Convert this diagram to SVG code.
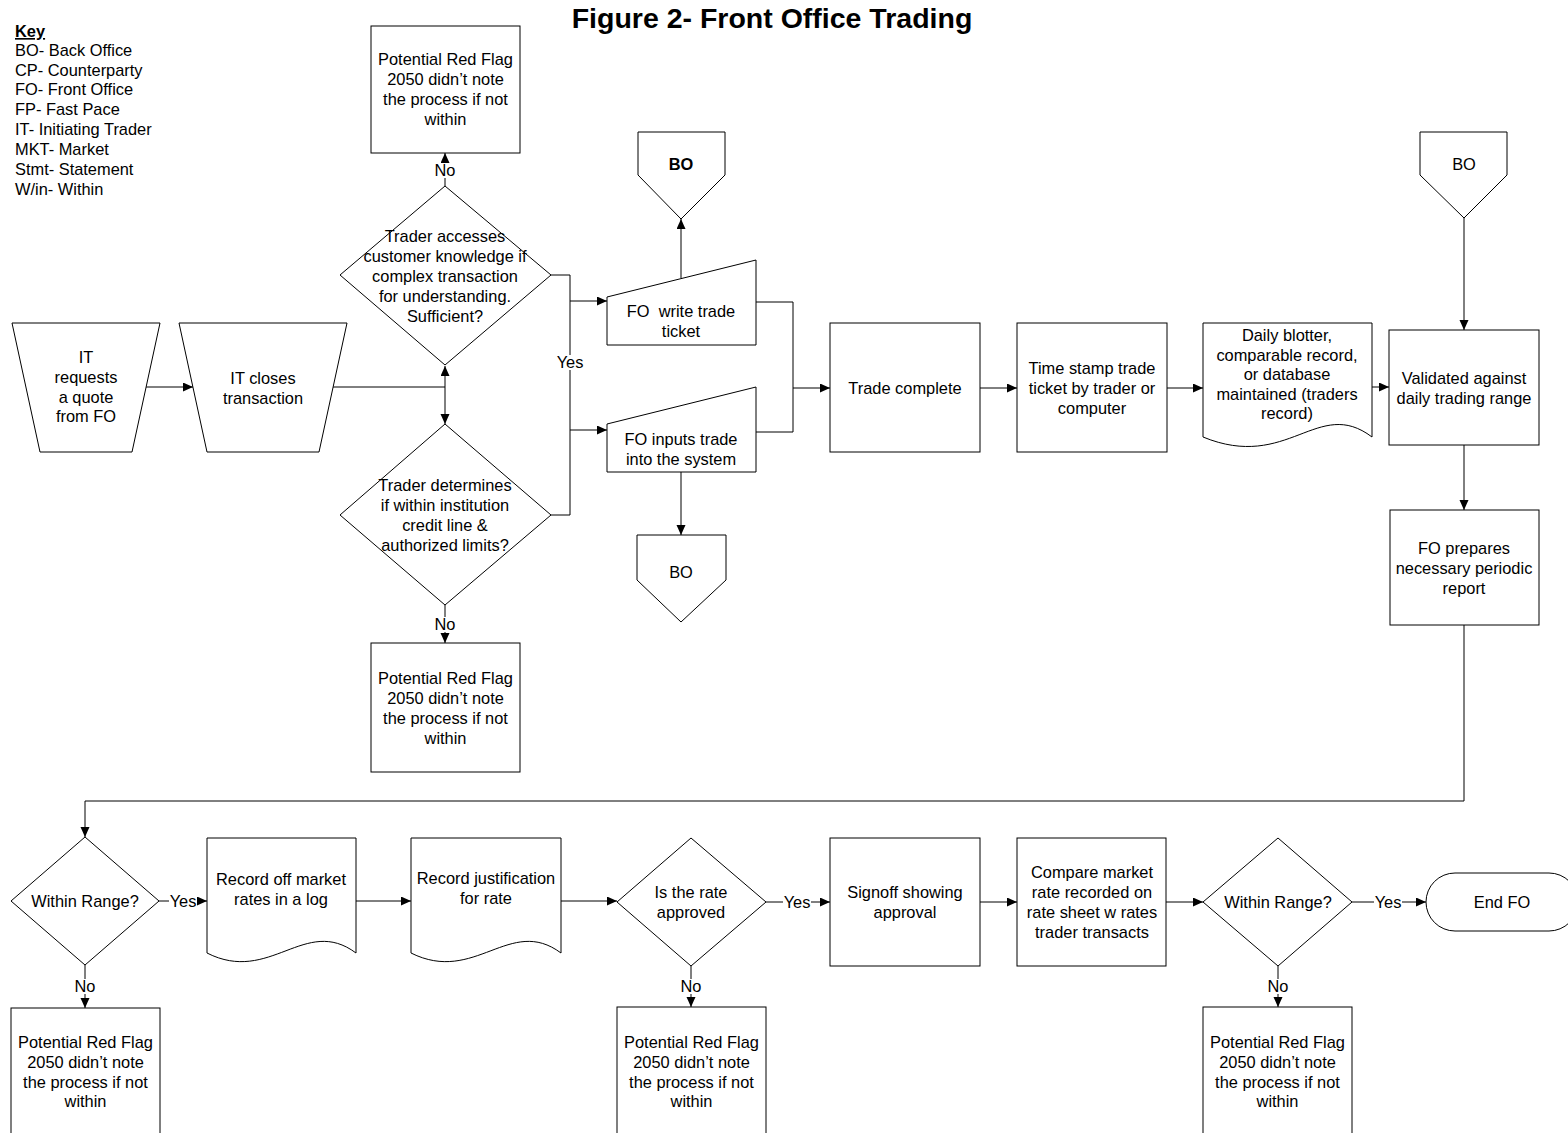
<svg xmlns="http://www.w3.org/2000/svg" width="1568" height="1133" viewBox="0 0 1568 1133">
<style>
text{font-family:"Liberation Sans",Arial,sans-serif;font-size:16.4px;fill:#000}
.c{text-anchor:middle}
.k{text-anchor:start}
.b{font-weight:bold}
.t{font-weight:bold;font-size:28.5px;text-anchor:middle}
.s{fill:#fff;stroke:#000;stroke-width:1}
.ln{fill:none;stroke:#000;stroke-width:1}
.lb{fill:#fff;stroke:none}
</style>
<defs>
<marker id="ah" markerUnits="userSpaceOnUse" markerWidth="11" markerHeight="10" refX="10" refY="4.5" orient="auto">
<path d="M0,0 L10,4.5 L0,9 Z" fill="#000"/>
</marker>
</defs>
<rect width="1568" height="1133" fill="#fff"/>
<g id="title"><text class="t" x="772" y="28">Figure 2- Front Office Trading</text></g>
<g id="key">
<text class="k b" x="15" y="37" text-decoration="underline">Key</text>
<text class="k" x="15" y="56">BO- Back Office</text>
<text class="k" x="15" y="76">CP- Counterparty</text>
<text class="k" x="15" y="95">FO- Front Office</text>
<text class="k" x="15" y="115">FP- Fast Pace</text>
<text class="k" x="15" y="135">IT- Initiating Trader</text>
<text class="k" x="15" y="155">MKT- Market</text>
<text class="k" x="15" y="175">Stmt- Statement</text>
<text class="k" x="15" y="195">W/in- Within</text>
</g>
<g id="connectors">
<path class="ln" d="M146,387 H193" marker-end="url(#ah)"/>
<path class="ln" d="M333,387 H445"/>
<path class="ln" d="M445,387 V366" marker-end="url(#ah)"/>
<path class="ln" d="M445,387 V424" marker-end="url(#ah)"/>
<path class="ln" d="M445,186 V153" marker-end="url(#ah)"/>
<path class="ln" d="M445,605 V643" marker-end="url(#ah)"/>
<path class="ln" d="M551,275 H570 V515 H551"/>
<path class="ln" d="M570,301 H607" marker-end="url(#ah)"/>
<path class="ln" d="M570,430 H607" marker-end="url(#ah)"/>
<path class="ln" d="M681,278 V219" marker-end="url(#ah)"/>
<path class="ln" d="M681,472 V535" marker-end="url(#ah)"/>
<path class="ln" d="M756,302 H793 V432 H756"/>
<path class="ln" d="M793,388 H830" marker-end="url(#ah)"/>
<path class="ln" d="M980,388 H1017" marker-end="url(#ah)"/>
<path class="ln" d="M1167,388 H1203" marker-end="url(#ah)"/>
<path class="ln" d="M1372,387 H1389" marker-end="url(#ah)"/>
<path class="ln" d="M1464,218 V330" marker-end="url(#ah)"/>
<path class="ln" d="M1464,445 V510" marker-end="url(#ah)"/>
<path class="ln" d="M1464,625 V801 H85 V837" marker-end="url(#ah)"/>
<path class="ln" d="M159,901 H207" marker-end="url(#ah)"/>
<path class="ln" d="M356,901 H411" marker-end="url(#ah)"/>
<path class="ln" d="M561,901 H617" marker-end="url(#ah)"/>
<path class="ln" d="M766,902 H830" marker-end="url(#ah)"/>
<path class="ln" d="M980,902 H1017" marker-end="url(#ah)"/>
<path class="ln" d="M1166,902 H1203" marker-end="url(#ah)"/>
<path class="ln" d="M1352,902 H1426" marker-end="url(#ah)"/>
<path class="ln" d="M85,965 V1008" marker-end="url(#ah)"/>
<path class="ln" d="M691,966 V1007" marker-end="url(#ah)"/>
<path class="ln" d="M1278,966 V1007" marker-end="url(#ah)"/>
<rect class="lb" x="434" y="163" width="22" height="15"/>
<text class="c" x="445" y="176">No</text>
<rect class="lb" x="434" y="617" width="22" height="15"/>
<text class="c" x="445" y="630">No</text>
<rect class="lb" x="555" y="355" width="30" height="15"/>
<text class="c" x="570" y="368">Yes</text>
<rect class="lb" x="169" y="894" width="28" height="15"/>
<text class="c" x="183" y="907">Yes</text>
<rect class="lb" x="783" y="895" width="28" height="15"/>
<text class="c" x="797" y="908">Yes</text>
<rect class="lb" x="1374" y="895" width="28" height="15"/>
<text class="c" x="1388" y="908">Yes</text>
<rect class="lb" x="74" y="979" width="22" height="15"/>
<text class="c" x="85" y="992">No</text>
<rect class="lb" x="680" y="979" width="22" height="15"/>
<text class="c" x="691" y="992">No</text>
<rect class="lb" x="1267" y="979" width="22" height="15"/>
<text class="c" x="1278" y="992">No</text>
</g>
<g id="it_request">
<polygon class="s" points="12,323 160,323 132,452 40,452"/>
<text class="c" x="86" y="363">IT</text>
<text class="c" x="86" y="383">requests</text>
<text class="c" x="86" y="403">a quote</text>
<text class="c" x="86" y="422">from FO</text>
</g>
<g id="it_close">
<polygon class="s" points="179,323 347,323 319,452 207,452"/>
<text class="c" x="263" y="384">IT closes</text>
<text class="c" x="263" y="404">transaction</text>
</g>
<g id="redflag_top">
<rect class="s" x="371" y="26" width="149" height="127"/>
<text class="c" x="445.5" y="65">Potential Red Flag</text>
<text class="c" x="445.5" y="85">2050 didn’t note</text>
<text class="c" x="445.5" y="105">the process if not</text>
<text class="c" x="445.5" y="125">within</text>
</g>
<g id="decision_sufficient">
<polygon class="s" points="445,186 551,275 445,365 340,275"/>
<text class="c" x="445" y="242">Trader accesses</text>
<text class="c" x="445" y="262">customer knowledge if</text>
<text class="c" x="445" y="282">complex transaction</text>
<text class="c" x="445" y="302">for understanding.</text>
<text class="c" x="445" y="322">Sufficient?</text>
</g>
<g id="decision_limits">
<polygon class="s" points="445,424 551,515 445,605 340,515"/>
<text class="c" x="445" y="491">Trader determines</text>
<text class="c" x="445" y="511">if within institution</text>
<text class="c" x="445" y="531">credit line &amp;</text>
<text class="c" x="445" y="551">authorized limits?</text>
</g>
<g id="redflag_mid">
<rect class="s" x="371" y="643" width="149" height="129"/>
<text class="c" x="445.5" y="684">Potential Red Flag</text>
<text class="c" x="445.5" y="704">2050 didn’t note</text>
<text class="c" x="445.5" y="724">the process if not</text>
<text class="c" x="445.5" y="744">within</text>
</g>
<g id="fo_write">
<polygon class="s" points="607,297 756,260 756,345 607,345"/>
<text class="c" x="681" y="317" xml:space="preserve">FO  write trade</text>
<text class="c" x="681" y="337">ticket</text>
</g>
<g id="fo_input">
<polygon class="s" points="607,424 756,387 756,472 607,472"/>
<text class="c" x="681" y="445">FO inputs trade</text>
<text class="c" x="681" y="465">into the system</text>
</g>
<g id="bo_top">
<polygon class="s" points="638,132 725,132 725,175 681,219 638,175"/>
<text class="c b" x="681" y="170">BO</text>
</g>
<g id="bo_bottom">
<polygon class="s" points="637,535 726,535 726,580 681,622 637,580"/>
<text class="c" x="681" y="578">BO</text>
</g>
<g id="trade_complete">
<rect class="s" x="830" y="323" width="150" height="129"/>
<text class="c" x="905" y="394">Trade complete</text>
</g>
<g id="time_stamp">
<rect class="s" x="1017" y="323" width="150" height="129"/>
<text class="c" x="1092" y="374">Time stamp trade</text>
<text class="c" x="1092" y="394">ticket by trader or</text>
<text class="c" x="1092" y="414">computer</text>
</g>
<g id="daily_blotter">
<path class="s" d="M1203,323 H1372 V437 C1318,396 1288,472 1203,437 Z"/>
<text class="c" x="1287" y="341">Daily blotter,</text>
<text class="c" x="1287" y="361">comparable record,</text>
<text class="c" x="1287" y="380">or database</text>
<text class="c" x="1287" y="400">maintained (traders</text>
<text class="c" x="1287" y="419">record)</text>
</g>
<g id="bo_right">
<polygon class="s" points="1420,132 1507,132 1507,175 1464,218 1420,175"/>
<text class="c" x="1464" y="170">BO</text>
</g>
<g id="validated">
<rect class="s" x="1389" y="330" width="150" height="115"/>
<text class="c" x="1464" y="384">Validated against</text>
<text class="c" x="1464" y="404">daily trading range</text>
</g>
<g id="fo_prepares">
<rect class="s" x="1390" y="510" width="149" height="115"/>
<text class="c" x="1464" y="554">FO prepares</text>
<text class="c" x="1464" y="574">necessary periodic</text>
<text class="c" x="1464" y="594">report</text>
</g>
<g id="decision_range1">
<polygon class="s" points="85,837 159,901 85,965 11,901"/>
<text class="c" x="85" y="907">Within Range?</text>
</g>
<g id="redflag_b1">
<rect class="s" x="11" y="1008" width="149" height="140"/>
<text class="c" x="85.5" y="1048">Potential Red Flag</text>
<text class="c" x="85.5" y="1068">2050 didn’t note</text>
<text class="c" x="85.5" y="1088">the process if not</text>
<text class="c" x="85.5" y="1107">within</text>
</g>
<g id="record_off">
<path class="s" d="M207,838 H356 V953 C305,915 270,985 207,953 Z"/>
<text class="c" x="281" y="885">Record off market</text>
<text class="c" x="281" y="905">rates in a log</text>
</g>
<g id="record_just">
<path class="s" d="M411,838 H561 V953 C510,915 475,985 411,953 Z"/>
<text class="c" x="486" y="884">Record justification</text>
<text class="c" x="486" y="904">for rate</text>
</g>
<g id="decision_rate">
<polygon class="s" points="691,838 766,902 691,966 617,902"/>
<text class="c" x="691" y="898">Is the rate</text>
<text class="c" x="691" y="918">approved</text>
</g>
<g id="redflag_b2">
<rect class="s" x="617" y="1007" width="149" height="140"/>
<text class="c" x="691.5" y="1048">Potential Red Flag</text>
<text class="c" x="691.5" y="1068">2050 didn’t note</text>
<text class="c" x="691.5" y="1088">the process if not</text>
<text class="c" x="691.5" y="1107">within</text>
</g>
<g id="signoff">
<rect class="s" x="830" y="838" width="150" height="128"/>
<text class="c" x="905" y="898">Signoff showing</text>
<text class="c" x="905" y="918">approval</text>
</g>
<g id="compare">
<rect class="s" x="1017" y="838" width="149" height="128"/>
<text class="c" x="1092" y="878">Compare market</text>
<text class="c" x="1092" y="898">rate recorded on</text>
<text class="c" x="1092" y="918">rate sheet w rates</text>
<text class="c" x="1092" y="938">trader transacts</text>
</g>
<g id="decision_range2">
<polygon class="s" points="1278,838 1352,902 1278,966 1203,902"/>
<text class="c" x="1278" y="908">Within Range?</text>
</g>
<g id="redflag_b3">
<rect class="s" x="1203" y="1007" width="149" height="140"/>
<text class="c" x="1277.5" y="1048">Potential Red Flag</text>
<text class="c" x="1277.5" y="1068">2050 didn’t note</text>
<text class="c" x="1277.5" y="1088">the process if not</text>
<text class="c" x="1277.5" y="1107">within</text>
</g>
<g id="end_fo">
<rect class="s" x="1426" y="873" width="152" height="58" rx="29" ry="29"/>
<text class="c" x="1502" y="908">End FO</text>
</g>
</svg>
